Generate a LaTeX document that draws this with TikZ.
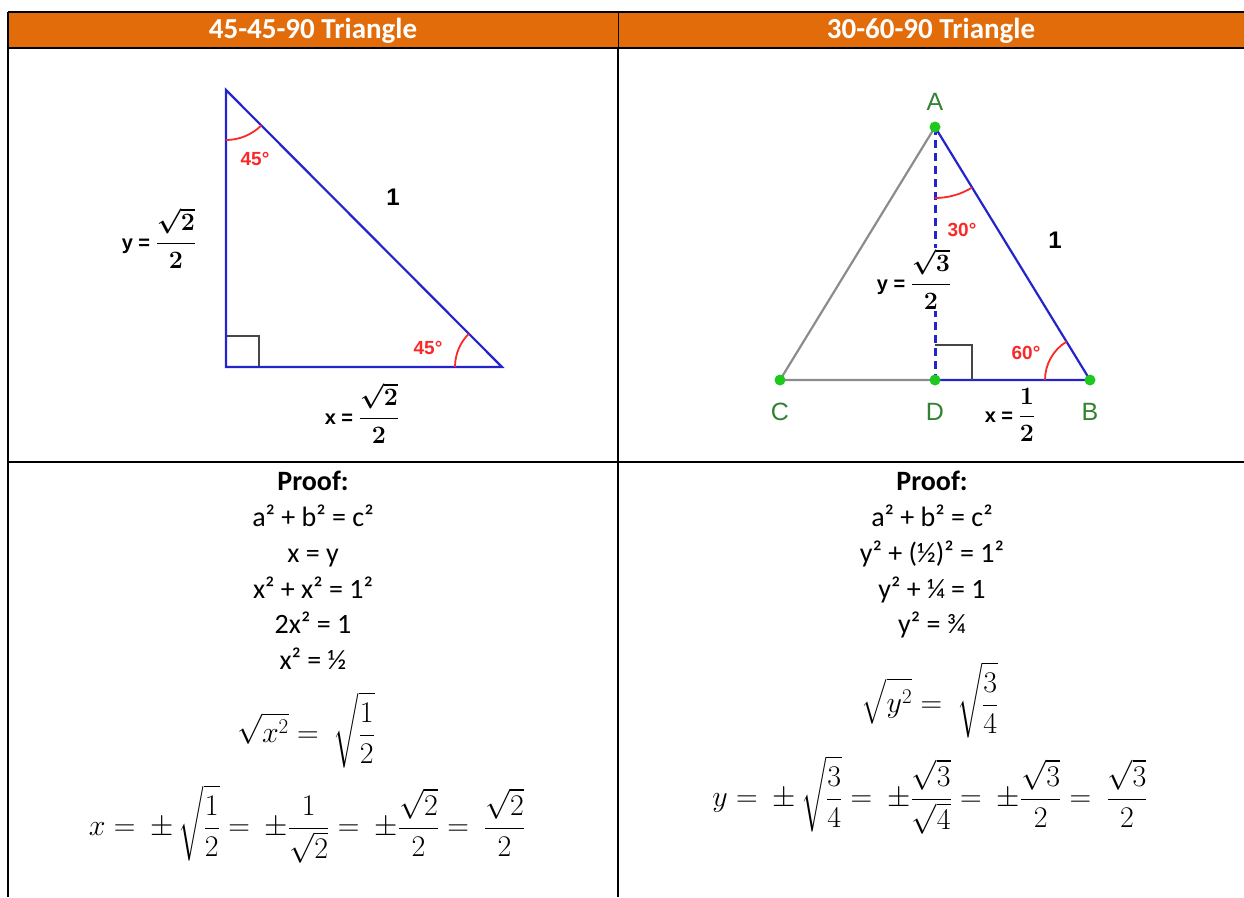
\RequirePackage{fix-cm}
\documentclass[tikz,border=0pt]{standalone}
\usepackage{amsmath}
\usepackage[no-math]{fontspec}
\setmainfont{Carlito}
\newfontfamily\labelfont{Liberation Sans}
\usetikzlibrary{positioning}
\usetikzlibrary{calc}
\definecolor{hdrorange}{RGB}{227,108,10}
\definecolor{triblue}{RGB}{36,36,204}
\definecolor{angred}{RGB}{250,40,40}
\definecolor{ptgreen}{RGB}{30,200,30}
\definecolor{lblgreen}{RGB}{50,130,50}
\definecolor{sidegray}{RGB}{140,140,140}
\definecolor{boxgray}{RGB}{70,70,70}
\newcommand{\sidefrac}[2]{{\fontsize{25}{27}\selectfont\boldmath$\dfrac{#1}{#2}$}}

\tikzset{
  grid line/.style={line width=2pt},
  side/.style={triblue, line width=2.2pt},
  angle arc/.style={angred, line width=1.8pt},
  ang label/.style={text=angred, font=\labelfont\bfseries\fontsize{19}{19}\selectfont, inner sep=0pt},
  len label/.style={font=\labelfont\bfseries\fontsize{20}{22}\selectfont, inner sep=0pt},
  big label/.style={font=\labelfont\bfseries\fontsize{24}{24}\selectfont, inner sep=0pt},
  vertex/.style={circle, fill=ptgreen, inner sep=0pt, minimum size=11pt},
  vertex label/.style={text=lblgreen, font=\labelfont\fontsize{25}{25}\selectfont, inner sep=0pt},
  proof line/.style={font=\fontsize{28}{28}\selectfont, inner sep=0pt, anchor=base},
  proof head/.style={font=\bfseries\fontsize{28}{28}\selectfont, inner sep=0pt, anchor=base},
  eqn/.style={font=\fontsize{30}{30}\selectfont, inner sep=0pt},
}

\begin{document}
\begin{tikzpicture}[x=1pt, y=-1pt]
    \useasboundingbox (0,0) rectangle (1244,897);

    % table
    \fill[hdrorange] (8,12) rectangle (1244,48);
    \draw[grid line] (8,12) -- (1244,12);
    \draw[grid line] (8,48) -- (1244,48);
    \draw[grid line] (8,462) -- (1244,462);
    \draw[grid line] (8,12) -- (8,897);
    \draw[line width=1pt] (618,12) -- (618,48);
    \draw[grid line] (618,48) -- (618,897);
    \node[text=white, proof head, font=\bfseries\fontsize{29}{29}\selectfont, anchor=center] (hdl) at (313,31) {45-45-90 Triangle};
    \node[text=white, proof head, font=\bfseries\fontsize{29}{29}\selectfont, anchor=center] (hdr) at (931,31) {30-60-90 Triangle};

    % 45-45-90 triangle
    \coordinate (P) at (226,90);
    \coordinate (Q) at (226,367);
    \coordinate (R) at (502,367);
    \draw[boxgray, line width=2pt] (226,336) -- (259,336) -- (259,367);
    \draw[side, line join=miter] (P) -- (Q) -- (R) -- cycle;
    \draw[angle arc] ($(P)+(90:50)$) arc[start angle=90, end angle=45, radius=50];
    \draw[angle arc] ($(R)+(180:47)$) arc[start angle=180, end angle=225, radius=47];
    \node[ang label] (angP) at (255,159) {45°};
    \node[ang label] (angR) at (428,348) {45°};
    \node[big label] (hypl) at (393,197) {1};
    \node[len label] (yl) at (159,238) {y = \sidefrac{\sqrt{2}}{2}};
    \node[len label] (xl) at (362,413) {x = \sidefrac{\sqrt{2}}{2}};

    % 30-60-90 triangle
    \coordinate (A) at (935,127);
    \coordinate (C) at (780,380);
    \coordinate (D) at (935,380);
    \coordinate (B) at (1090,380);
    \draw[sidegray, line width=2.2pt] (A) -- (C) -- (D);
    \draw[side] (D) -- (B) -- (A);
    \draw[triblue, line width=3pt, dash pattern=on 8pt off 5pt] (A) -- (D);
    \draw[boxgray, line width=2pt] (935,345) -- (972,345) -- (972,380);
    \draw[angle arc] ($(A)+(90:71)$) arc[start angle=90, end angle=58.5, radius=71];
    \draw[angle arc] ($(B)+(180:45)$) arc[start angle=180, end angle=238.5, radius=45];
    \foreach \v in {A,B,C,D}
        \node[vertex] (dot\v) at (\v) {};
    \node[vertex label] (labA) at (935,102) {A};
    \node[vertex label] (labC) at (780,412) {C};
    \node[vertex label] (labD) at (935,412) {D};
    \node[vertex label] (labB) at (1090,412) {B};
    \node[ang label] (angA) at (962,230) {30°};
    \node[ang label] (angB) at (1026,353) {60°};
    \node[big label] (sidel) at (1055,240) {1};
    \node[len label, fill=white, inner sep=1pt] (yr) at (914,279) {y = \sidefrac{\sqrt{3}}{2}};
    \node[len label] (xr) at (1010,415) {x = \sidefrac{1}{2}};

    % proof, left
    \node[proof head] (lp0) at (313,490) {Proof:};
    \node[proof line] (lp1) at (313,526) {a² + b² = c²};
    \node[proof line] (lp2) at (313,562) {x = y};
    \node[proof line] (lp3) at (313,598) {x² + x² = 1²};
    \node[proof line] (lp4) at (313,633) {2x² = 1};
    \node[proof line] (lp5) at (313,669) {x² = ½};
    \node[eqn] (lq1) at (306,730) {$\displaystyle \sqrt{x^2} = \ \sqrt{\frac{1}{2}}$};
    \node[eqn] (lq2) at (307,824) {$\displaystyle x = \ \pm\,\sqrt{\frac{1}{2}} = \ \pm\frac{1}{\sqrt{2}} = \ \pm\frac{\sqrt{2}}{2} = \ \frac{\sqrt{2}}{2}$};

    % proof, right
    \node[proof head] (rp0) at (932,490) {Proof:};
    \node[proof line] (rp1) at (932,526) {a² + b² = c²};
    \node[proof line] (rp2) at (932,562) {y² + (½)² = 1²};
    \node[proof line] (rp3) at (932,598) {y² + ¼ = 1};
    \node[proof line] (rp4) at (932,633) {y² = ¾};
    \node[eqn] (rq1) at (930,700) {$\displaystyle \sqrt{y^2} = \ \sqrt{\frac{3}{4}}$};
    \node[eqn] (rq2) at (930,795) {$\displaystyle y = \ \pm\,\sqrt{\frac{3}{4}} = \ \pm\frac{\sqrt{3}}{\sqrt{4}} = \ \pm\frac{\sqrt{3}}{2} = \ \frac{\sqrt{3}}{2}$};
\end{tikzpicture}
\end{document}
